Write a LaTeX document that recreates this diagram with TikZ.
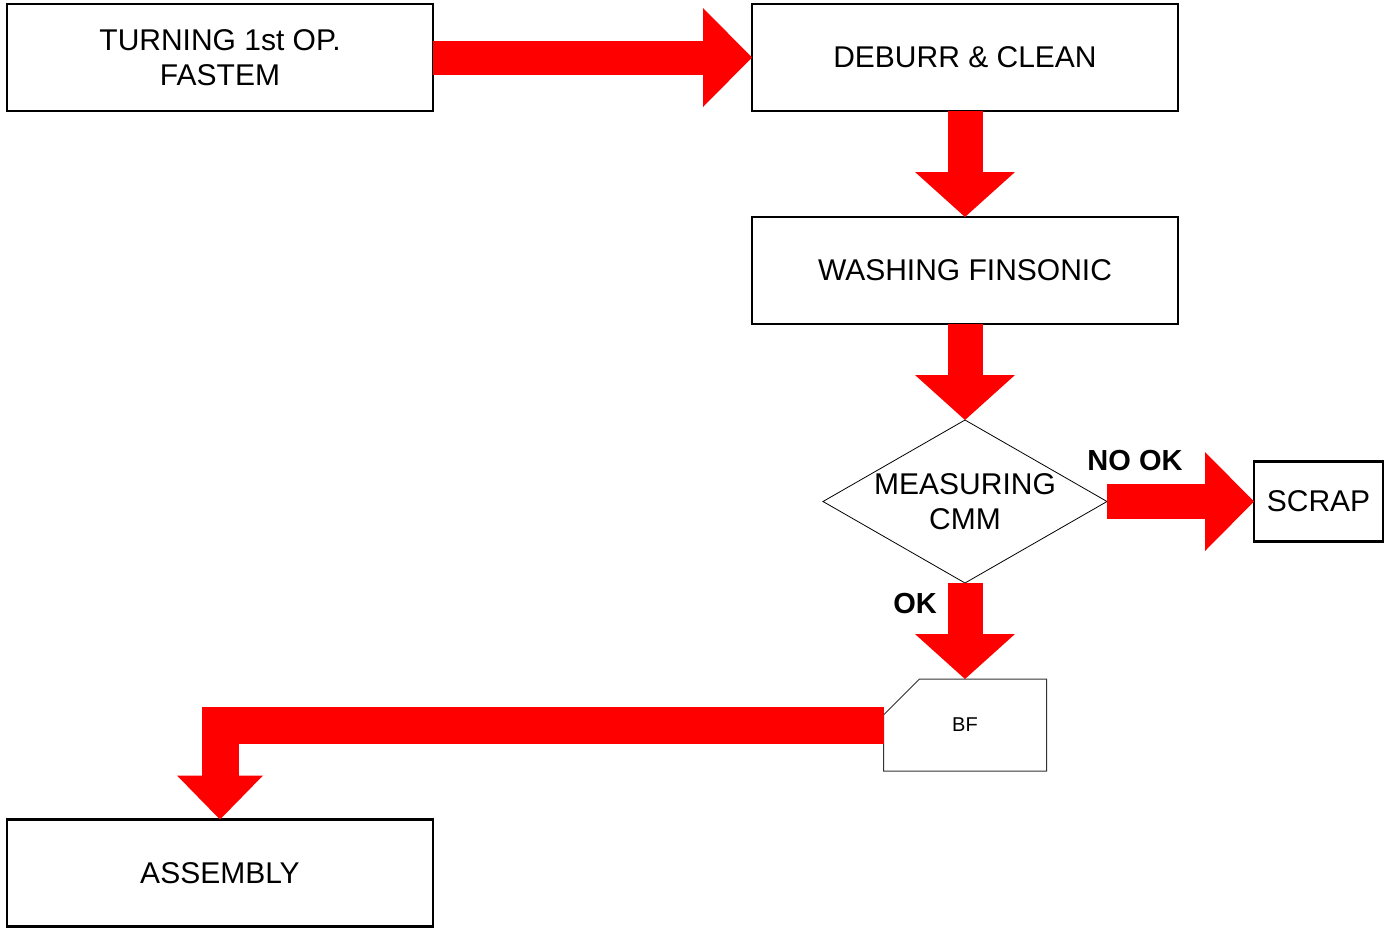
\documentclass[tikz,border=0pt]{standalone}
\usepackage{fontspec}
\setmainfont{Liberation Sans}
\usetikzlibrary{arrows.meta,shapes.geometric,calc}

\begin{document}
\begin{tikzpicture}[
    x=1pt, y=-1pt,
    box/.style={rectangle, draw, line width=2.5pt, minimum width=426pt, minimum height=107pt, align=center, inner sep=0pt, outer sep=0pt, font=\fontsize{30}{35}\selectfont},
    decision/.style={diamond, draw, line width=0.8pt, minimum width=284pt, minimum height=163pt, inner sep=0pt, outer sep=0pt},
    flow/.style={draw=red, line width=35pt, -{Triangle[length=45pt 0 0, width=100pt 0 0, line width=0pt 0 0]}},
    sideflow/.style={flow, -{Triangle[length=49pt 0 0, width=99pt 0 0, line width=0pt 0 0]}},
    tag/.style={font=\bfseries\fontsize{29}{34}\selectfont}
]
\useasboundingbox (0,0) rectangle (1393,927);

% Process steps
\node[box] (turning) at (220,57.5) {TURNING 1st OP.\\FASTEM};
\node[box] (deburr) at (965,57.5) {DEBURR \& CLEAN};
\node[box] (washing) at (965,270.5) {WASHING FINSONIC};
\node[decision, label={[align=center, font=\fontsize{30}{35}\selectfont]center:MEASURING\\CMM}] (measure) at (965,501.5) {};
\node[box, minimum width=129pt, minimum height=80pt] (scrap) at (1318.5,501.5) {SCRAP};
\node[minimum width=163pt, minimum height=92pt, inner sep=0pt, outer sep=0pt, font=\fontsize{20}{24}\selectfont] (bf) at (965,725) {BF};
\draw[line width=1pt, black!80] (bf.south west) -- ($(bf.north west)+(0,36)$) -- ($(bf.north west)+(36,0)$) -- (bf.north east) -- (bf.south east) -- cycle;
\node[box] (assembly) at (220,873) {ASSEMBLY};

% Flow arrows
\draw[sideflow, line width=34pt] (turning.east) -- (deburr.west);
\draw[flow] (deburr.south) -- (washing.north);
\draw[flow] (washing.south) -- (measure.north);
\draw[sideflow] (measure.east) -- (scrap.west);
\draw[flow] (measure.south) -- (bf.north);
\draw[flow, line width=37pt, -{Triangle[length=44pt 0 0, width=86pt 0 0, line width=0pt 0 0]}] (bf.west) -| (assembly.north);

% Decision labels
\node[tag] (nook) at (1135,461) {NO OK};
\node[tag] (ok) at (915,604) {OK};

\end{tikzpicture}
\end{document}
